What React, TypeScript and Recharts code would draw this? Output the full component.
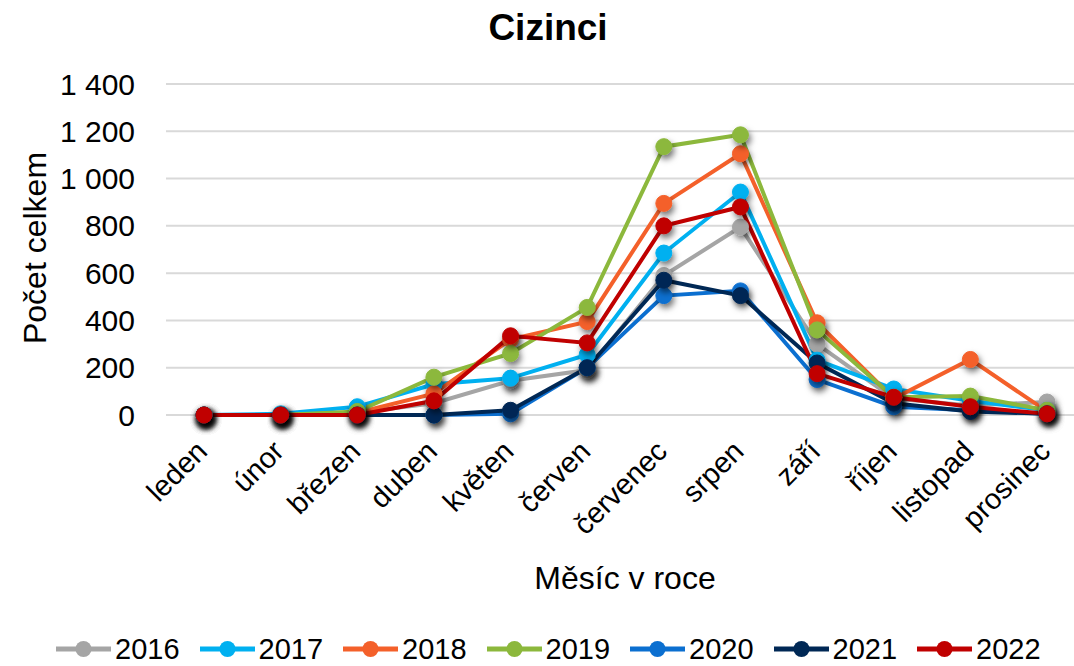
import React from 'react';
import { LineChart, Line, XAxis, YAxis, CartesianGrid } from 'recharts';

const months = ['leden', 'únor', 'březen', 'duben', 'květen', 'červen', 'červenec', 'srpen', 'září', 'říjen', 'listopad', 'prosinec'];
const yTicks = [0, 200, 400, 600, 800, 1000, 1200, 1400];

const v2016 = [0, 0, 10, 50, 145, 190, 590, 795, 300, 70, 40, 55];
const v2017 = [0, 5, 35, 130, 156, 255, 685, 943, 232, 110, 60, 20];
const v2018 = [0, 0, 10, 90, 320, 395, 895, 1105, 390, 70, 235, 15];
const v2019 = [0, 0, 15, 160, 260, 455, 1135, 1185, 360, 75, 80, 20];
const v2020 = [0, 0, 0, 0, 5, 200, 505, 525, 150, 35, 20, 5];
const v2021 = [0, 0, 0, 0, 20, 200, 570, 505, 220, 50, 15, 5];
const v2022 = [0, 0, 0, 60, 335, 305, 800, 880, 175, 75, 35, 5];

const series = [
  { key: 'y2016', name: '2016', color: '#a5a5a5', values: v2016 },
  { key: 'y2017', name: '2017', color: '#00b0f0', values: v2017 },
  { key: 'y2018', name: '2018', color: '#f4602a', values: v2018 },
  { key: 'y2019', name: '2019', color: '#8cb83c', values: v2019 },
  { key: 'y2020', name: '2020', color: '#0b6fd0', values: v2020 },
  { key: 'y2021', name: '2021', color: '#002855', values: v2021 },
  { key: 'y2022', name: '2022', color: '#c00000', values: v2022 },
];

const data = months.map((m, i) => {
  const row: Record<string, string | number> = { month: m };
  series.forEach((s) => {
    row[s.key] = s.values[i];
  });
  return row;
});

const font = '"Liberation Sans", Arial, sans-serif';
const fmt = (v: number) => String(v).replace(/\B(?=(\d{3})+(?!\d))/g, ' ');

const YTick = (props: any) => {
  const { y, payload } = props;
  return (
    <text x={135} y={y} dy={10.5} textAnchor="end" fontSize={30} fill="#000" fontFamily={font}>
      {fmt(payload.value)}
    </text>
  );
};

const XTick = (props: any) => {
  const { x, y, payload } = props;
  const ax = x + 5;
  const ay = y + 30;
  return (
    <text x={ax} y={ay} textAnchor="end" fontSize={29} fill="#000" fontFamily={font} transform={`rotate(-45, ${ax}, ${ay})`}>
      {payload.value}
    </text>
  );
};

export default function App() {
  return (
    <div style={{ position: 'absolute', left: 0, top: 0, width: 1074, height: 666, overflow: 'hidden', background: '#fff', fontFamily: font }}>
      <svg width={0} height={0} style={{ position: 'absolute' }}>
        <defs>
          <filter id="shadow" x="-100%" y="-100%" width="300%" height="300%">
            <feDropShadow dx={2} dy={4} stdDeviation={3} floodColor="#000" floodOpacity={0.55} />
          </filter>
        </defs>
      </svg>
      <div style={{ position: 'absolute', left: 548, top: 28, transform: 'translate(-50%, -50%)', fontSize: 37, fontWeight: 'bold', whiteSpace: 'nowrap' }}>Cizinci</div>
      <LineChart width={1090} height={666} data={data} margin={{ top: 84, right: 5, left: 0, bottom: 0 }}>
        <CartesianGrid vertical={false} stroke="#d9d9d9" strokeWidth={2} />
        <XAxis dataKey="month" axisLine={false} tickLine={false} tick={<XTick />} interval={0} height={251} padding={{ left: 38, right: 38 }} />
        <YAxis width={166} domain={[0, 1400]} ticks={yTicks} axisLine={false} tickLine={false} tick={<YTick />} interval={0} />
        {series.map((s) => (
          <Line
            key={s.key}
            dataKey={s.key}
            name={s.name}
            stroke={s.color}
            strokeWidth={4}
            dot={{ r: 8, fill: s.color, stroke: s.color, strokeWidth: 1, filter: 'url(#shadow)' }}
            isAnimationActive={false}
          />
        ))}
      </LineChart>
      <div style={{ position: 'absolute', left: 35, top: 248, transform: 'translate(-50%, -50%) rotate(-90deg)', fontSize: 32, whiteSpace: 'nowrap' }}>Počet celkem</div>
      <div style={{ position: 'absolute', left: 625, top: 578, transform: 'translate(-50%, -50%)', fontSize: 32, whiteSpace: 'nowrap' }}>Měsíc v roce</div>
      <div style={{ position: 'absolute', left: 56, top: 633, display: 'flex', fontSize: 29, lineHeight: '32px' }}>
        {series.map((s) => (
          <div key={s.key} style={{ display: 'flex', alignItems: 'center', marginRight: 20 }}>
            <svg width={55} height={30}>
              <line x1={0} y1={15} x2={55} y2={15} stroke={s.color} strokeWidth={5} />
              <circle cx={27.5} cy={15} r={8} fill={s.color} />
            </svg>
            <span style={{ marginLeft: 4 }}>{s.name}</span>
          </div>
        ))}
      </div>
    </div>
  );
}
